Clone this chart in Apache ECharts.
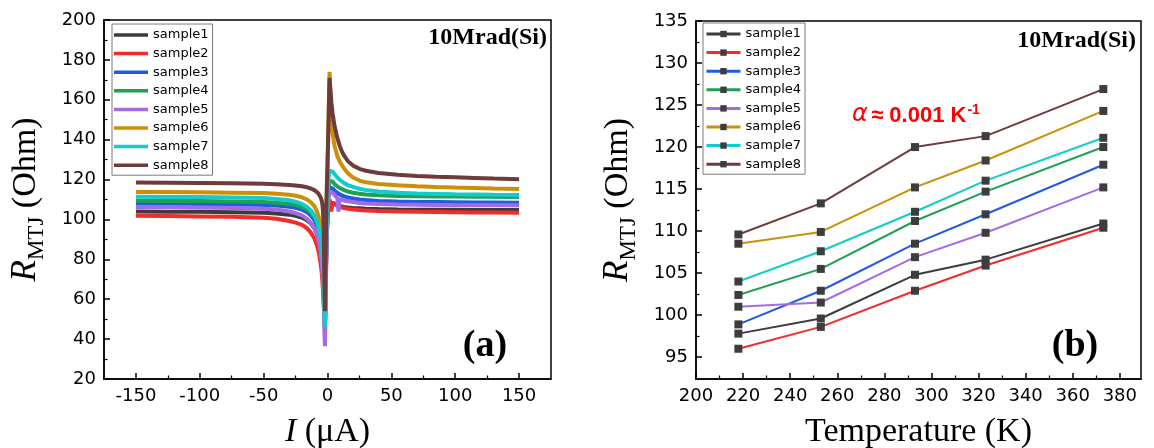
<!DOCTYPE html>
<html><head><meta charset="utf-8">
<script src="https://cdn.jsdelivr.net/npm/echarts@6/dist/echarts.min.js"></script>
<style>html,body{margin:0;padding:0;background:#fff}#c{width:1154px;height:448px}</style>
</head><body><div id="c"></div>
<script>
// ---------- data ----------
const sampleNames = ['sample1','sample2','sample3','sample4','sample5','sample6','sample7','sample8'];
const sampleColors = ['#3c3c3c','#f22b2b','#1f5ce0','#1fa052','#a36ce6','#cc9008','#12cccc','#6e3b3b'];

// panel (a): current sweep in µA
const currentUA = [-150,-125,-100,-75,-50,-40,-30,-25,-20,-16,-13,-10,-8,-6.5,-5.5,-4.5,-4,-3.5,-3,-2.5,-2,-1.5,-0.8,0,0.8,1.6,2.3,3,4,5.5,7.6,8.6,9.5,11,13,16,20,25,30,40,55,70,85,100,115,130,150];
const rI1 = [104.0,103.9,103.8,103.6,103.3,103.0,102.4,101.8,100.9,99.6,98.0,95.5,92.5,89,86,81,77,72,65,52,46,62,88,101,106,108.5,109,108.6,108.2,107.7,107.2,107,106.8,106.6,106.3,106.0,105.8,105.6,105.4,105.2,105.0,104.9,104.85,104.8,104.75,104.7,104.7];
const rI2 = [101.8,101.7,101.5,101.3,100.9,100.3,99.2,98.4,97.3,95.6,93.4,90.2,86.5,82.5,78.5,73,69,64,58,53,54,66,88,100,106,110,108.5,104,108.5,107.6,106.9,106.6,106.3,106.0,105.7,105.3,105.0,104.7,104.5,104.2,104.0,103.8,103.7,103.6,103.5,103.45,103.4];
const rI3 = [108.0,107.9,107.8,107.6,107.3,107.0,106.4,105.8,104.9,103.6,102.0,99.5,96.5,93,90,85,81,76,69,56,48,64,92,108,113,116,117,116.5,115.6,114.5,113.4,113,112.6,112.1,111.6,111.0,110.5,110.0,109.7,109.3,109.0,108.8,108.7,108.6,108.5,108.45,108.4];
const rI4 = [109.4,109.3,109.2,109.0,108.7,108.4,107.8,107.2,106.3,105.0,103.4,100.9,97.9,94.4,91.4,86.4,82.4,77.4,70.4,57,48,64,93,110,116,119.5,120.5,120,119,117.8,116.6,116.2,115.8,115.3,114.7,114.0,113.4,112.9,112.5,112.1,111.8,111.6,111.5,111.45,111.4,111.35,111.3];
const rI5 = [106.3,106.2,106.0,105.8,105.4,105.0,104.0,103.2,102.0,100.3,98.3,95.3,91.8,87.8,84.3,78.8,74.3,68.8,61.3,45,36.5,55,86,103,110,114,115,114.3,113.4,112.3,110.8,104,110.3,109.9,109.5,109.1,108.7,108.3,108.0,107.7,107.5,107.4,107.3,107.2,107.15,107.1,107.1];
const rI6 = [113.8,113.7,113.6,113.4,113.2,112.9,112.4,111.9,111.1,110,108.6,106.4,103.6,100.4,97.6,93,89.4,84.8,78.5,65,52,70,105,125,150,174,162,150,143,137,132,130.5,129.2,127.5,125.6,123.2,121.0,119.5,118.6,117.8,117.2,116.7,116.3,116.0,115.8,115.5,115.3];
const rI7 = [111.4,111.3,111.2,111.0,110.7,110.3,109.6,108.9,107.8,106.3,104.5,101.8,98.6,95,91.8,86.6,82.5,77.4,70.4,56,46,63,95,113,121,124.5,125.5,125,124,122.8,121.2,120.5,119.9,119,118.2,117.2,116.3,115.4,114.8,114.0,113.4,113.0,112.8,112.6,112.5,112.4,112.3];
const rI8 = [118.5,118.4,118.3,118.1,117.9,117.7,117.3,117.0,116.6,116.1,115.5,114.6,113.6,112.4,111.3,109.5,107.5,104,96,72,54,78,110,128,148,171,165,159,153,147,141,139,137,134.5,132,129.2,127,125.4,124.4,123.3,122.4,121.8,121.4,121.1,120.8,120.5,120.2];
const rCurrent = [rI1,rI2,rI3,rI4,rI5,rI6,rI7,rI8];

// panel (b): temperature in K
const temperatureK = [218,253,293,323,373];
const rT1 = [97.8,99.6,104.8,106.6,110.9];
const rT2 = [96.0,98.6,102.9,105.9,110.4];
const rT3 = [98.9,102.9,108.5,112.0,117.9];
const rT4 = [102.4,105.5,111.2,114.7,120.0];
const rT5 = [101.0,101.5,106.9,109.8,115.2];
const rT6 = [108.5,109.9,115.2,118.4,124.3];
const rT7 = [104.0,107.6,112.3,116.0,121.1];
const rT8 = [109.6,113.3,120.0,121.3,126.9];
const rTemp = [rT1,rT2,rT3,rT4,rT5,rT6,rT7,rT8];

// tick labels
const xTicksA = [-150,-100,-50,0,50,100,150];
const xMinorA = [-125,-75,-25,25,75,125];
const yTicksA = [20,40,60,80,100,120,140,160,180,200];
const yMinorA = [30,50,70,90,110,130,150,170,190];
const xTicksB = [200,220,240,260,280,300,320,340,360,380];
const xMinorB = [210,230,250,270,290,310,330,350,370];
const yTicksB = [95,100,105,110,115,120,125,130,135];
const yMinorB = [97.5,102.5,107.5,112.5,117.5,122.5,127.5,132.5];

// ---------- chart ----------
const chart = echarts.init(document.getElementById('c'));
const TICKFONT = 'DejaVu Sans';
const SERIF = 'Liberation Serif';
const axisLineStyle = {color:'#000', width:1.5};

function mainAxis(grid, min, max, ticks, extra) {
  return Object.assign({
    type:'value', gridIndex:grid, min:min, max:max,
    axisLine:{show:true, onZero:false, lineStyle:axisLineStyle},
    axisTick:{show:true, inside:true, length:6, customValues:ticks, lineStyle:{color:'#000', width:1.5}},
    axisLabel:{show:true, customValues:ticks, fontFamily:TICKFONT, fontSize:18, color:'#000'},
    splitLine:{show:false}
  }, extra);
}
function minorAxis(grid, min, max, ticks, pos) {
  return {
    type:'value', gridIndex:grid, min:min, max:max, position:pos,
    axisLine:{show:false, onZero:false},
    axisTick:{show:true, inside:true, length:3.5, customValues:ticks, lineStyle:{color:'#000', width:1.2}},
    axisLabel:{show:false}, splitLine:{show:false}
  };
}

const titleRich = {
  r:{fontFamily:SERIF, fontStyle:'italic', fontSize:35, color:'#000', verticalAlign:'bottom', padding:[0,0,5,0]},
  s:{fontFamily:SERIF, fontSize:23, color:'#000', verticalAlign:'bottom'},
  o:{fontFamily:SERIF, fontSize:34, color:'#000', verticalAlign:'bottom', padding:[0,0,5,0]},
  i:{fontFamily:SERIF, fontStyle:'italic', fontSize:34, color:'#000'},
  n:{fontFamily:SERIF, fontSize:34, color:'#000'}
};

const series = [];
sampleNames.forEach((nm, k) => {
  series.push({
    type:'line', name:nm, xAxisIndex:0, yAxisIndex:0,
    data: currentUA.map((x,i) => [x, rCurrent[k][i]]),
    symbol:'none', color:sampleColors[k],
    lineStyle:{color:sampleColors[k], width:4}, itemStyle:{color:sampleColors[k]},
    silent:true, z:2+k
  });
});
sampleNames.forEach((nm, k) => {
  series.push({
    type:'line', name:'T-'+nm, xAxisIndex:2, yAxisIndex:2,
    data: temperatureK.map((x,i) => [x, rTemp[k][i]]),
    symbol:'rect', symbolSize:8, color:sampleColors[k],
    lineStyle:{color:sampleColors[k], width:2}, itemStyle:{color:'#3d3d3d'},
    silent:true, z:2+k
  });
});

const legendCommon = {
  orient:'vertical', itemWidth:34, itemGap:4.6,
  padding:[4,4,3,2], borderColor:'#7a7a7a', borderWidth:1, backgroundColor:'#fff',
  textStyle:{fontFamily:TICKFONT, fontSize:13, color:'#000', lineHeight:14},
  selectedMode:false
};

const option = {
  animation:false,
  backgroundColor:'#fff',
  grid:[
    {left:104, right:603, top:20, bottom:69, show:true, borderColor:'#000', borderWidth:1.5, backgroundColor:'transparent', containLabel:false, outerBoundsMode:'none'},
    {left:696, right:13, top:21, bottom:69, show:true, borderColor:'#000', borderWidth:1.5, backgroundColor:'transparent', containLabel:false, outerBoundsMode:'none'}
  ],
  xAxis:[
    mainAxis(0, -175, 175, xTicksA, {position:'bottom', name:'{i|I}{n| (μA)}', nameLocation:'middle', nameGap:36, nameTextStyle:{rich:titleRich}}),
    minorAxis(0, -175, 175, xMinorA, 'bottom'),
    mainAxis(1, 200, 389, xTicksB, {position:'bottom', name:'{n|Temperature (K)}', nameLocation:'middle', nameGap:36, nameTextStyle:{rich:titleRich}}),
    minorAxis(1, 200, 389, xMinorB, 'bottom')
  ],
  yAxis:[
    mainAxis(0, 20, 200, yTicksA, {position:'left', name:'{r|R}{s|MTJ}{o| (Ohm)}', nameLocation:'middle', nameGap:56, nameTextStyle:{rich:titleRich}}),
    minorAxis(0, 20, 200, yMinorA, 'left'),
    mainAxis(1, 92.4, 135, yTicksB, {position:'left', name:'{r|R}{s|MTJ}{o| (Ohm)}', nameLocation:'middle', nameGap:56, nameTextStyle:{rich:titleRich}}),
    minorAxis(1, 92.4, 135, yMinorB, 'left')
  ],
  legend:[
    Object.assign({}, legendCommon, {data:sampleNames, left:112, top:24, icon:'rect', itemHeight:3.5}),
    Object.assign({}, legendCommon, {data:sampleNames.map(n => 'T-'+n), left:703, top:23, itemHeight:8,
      lineStyle:{width:3}, formatter: n => n.replace('T-','')})
  ],
  graphic:[
    {type:'text', x:547, y:38, style:{text:'10Mrad(Si)', font:'bold 24px "Liberation Serif"', fill:'#000', align:'right', textAlign:'right', verticalAlign:'middle', textVerticalAlign:'middle'}},
    {type:'text', x:1136, y:41, style:{text:'10Mrad(Si)', font:'bold 24px "Liberation Serif"', fill:'#000', align:'right', textAlign:'right', verticalAlign:'middle', textVerticalAlign:'middle'}},
    {type:'text', x:485, y:346, style:{text:'(a)', font:'bold 38px "Liberation Serif"', fill:'#000', align:'center', textAlign:'center', verticalAlign:'middle', textVerticalAlign:'middle'}},
    {type:'text', x:1075, y:346, style:{text:'(b)', font:'bold 38px "Liberation Serif"', fill:'#000', align:'center', textAlign:'center', verticalAlign:'middle', textVerticalAlign:'middle'}},
    {type:'text', x:852, y:115, style:{
      text:'{a|α} {b|≈ 0.001 K}{c|-1}', fill:'#ff0000', verticalAlign:'middle', textVerticalAlign:'middle',
      rich:{
        a:{fontFamily:'DejaVu Sans', fontStyle:'italic', fontSize:24, fill:'#ff0000', color:'#ff0000', verticalAlign:'bottom'},
        b:{fontFamily:'Liberation Sans', fontWeight:'bold', fontSize:22, fill:'#ff0000', color:'#ff0000', verticalAlign:'bottom'},
        c:{fontFamily:'Liberation Sans', fontWeight:'bold', fontSize:14, fill:'#ff0000', color:'#ff0000', verticalAlign:'bottom', padding:[0,0,10,1]}
      }}}
  ],
  series:series
};
chart.setOption(option);
</script>
</body></html>
